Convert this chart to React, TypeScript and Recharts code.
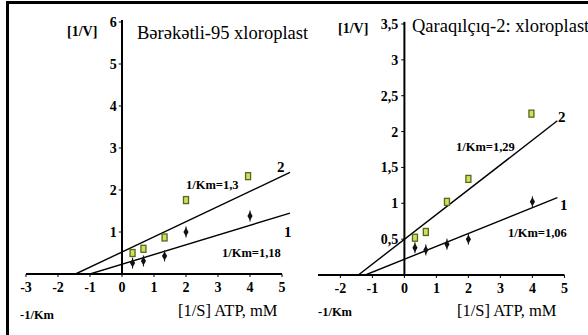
import { ScatterChart, Scatter, XAxis, YAxis, ReferenceLine } from "recharts";

const FONT = "Liberation Serif, Tinos, DejaVu Serif, Times New Roman, serif";

// 1/S, mM^-1
const invS = [0.33, 0.67, 1.33, 2, 4];

// Bərəkətli-95: measured 1/V and fitted lines
const berX2 = [0.33, 0.67, 1.33, 2, 3.94];
const berV1 = [0.26, 0.31, 0.43, 1.0, 1.38];
const berV2 = [0.5, 0.6, 0.87, 1.76, 2.33];
const berFit1X = [-1.0, 5.25];
const berFit1Y = [0, 1.45];
const berFit2X = [-1.45, 5.25];
const berFit2Y = [0, 2.42];

// Qaraqılçıq-2
const qarX2 = [0.33, 0.67, 1.33, 2, 3.97];
const qarV1 = [0.38, 0.35, 0.43, 0.5, 1.02];
const qarV2 = [0.52, 0.6, 1.02, 1.34, 2.25];
const qarFit1X = [-1.22, 4.78];
const qarFit1Y = [0, 1.08];
const qarFit2X = [-1.44, 4.78];
const qarFit2Y = [0, 2.15];

const berXTicks = [-3, -2, -1, 0, 1, 2, 3, 4, 5];
const berYTicks = [1, 2, 3, 4, 5, 6];
const qarXTicks = [-2, -1, 0, 1, 2, 3, 4, 5];
const qarYTicks = [0.5, 1, 1.5, 2, 2.5, 3, 3.5];

const toPoints = (xs: number[], ys: number[]) => xs.map((x, i) => ({ x, y: ys[i] }));
const fmt = (v: number) => String(v).replace(".", ",");

const Square = (p: any) => (
  <rect x={p.cx - 2.5} y={p.cy - 3.5} width={5} height={7} fill="#d2de5c" stroke="#56681c" strokeWidth={1.3} />
);

const Diamond = (p: any) => (
  <g>
    <line x1={p.cx} x2={p.cx} y1={p.cy - 5.5} y2={p.cy + 5.5} stroke="#111" strokeWidth={1} />
    <polygon
      points={`${p.cx},${p.cy - 4.5} ${p.cx + 2.6},${p.cy} ${p.cx},${p.cy + 4.5} ${p.cx - 2.6},${p.cy}`}
      fill="#111"
    />
  </g>
);

const NoDot = () => <g />;

interface PanelProps {
  left: number;
  width: number;
  margin: { top: number; right: number; bottom: number; left: number };
  xDomain: [number, number];
  yDomain: [number, number];
  xTicks: number[];
  yTicks: number[];
  axisStart: number;
  axisEnd: number;
  yAxisTop: number;
  labelOffset: number;
  squares: { x: number; y: number }[];
  diamonds: { x: number; y: number }[];
  fit1: { x: number; y: number }[];
  fit2: { x: number; y: number }[];
}

function Panel(props: PanelProps) {
  const { left, width, margin, xDomain, yDomain, xTicks, yTicks } = props;
  return (
    <div style={{ position: "absolute", left, top: 0 }}>
      <ScatterChart width={width} height={335} margin={margin}>
        <XAxis
          type="number"
          dataKey="x"
          domain={xDomain}
          ticks={xTicks}
          interval={0}
          allowDataOverflow
          axisLine={false}
          stroke="#000"
          tickSize={3}
          tickMargin={5}
          height={20}
          tickFormatter={fmt}
          tick={{ fill: "#000", fontSize: 14, fontWeight: "bold", style: { fontFamily: FONT } }}
        />
        <YAxis type="number" dataKey="y" domain={yDomain} allowDataOverflow hide />
        <ReferenceLine
          segment={[{ x: props.axisStart, y: 0 }, { x: props.axisEnd, y: 0 }]}
          stroke="#000"
          strokeWidth={2}
          ifOverflow="visible"
        />
        <ReferenceLine
          segment={[{ x: 0, y: 0 }, { x: 0, y: props.yAxisTop }]}
          stroke="#000"
          strokeWidth={2}
          ifOverflow="visible"
        />
        {yTicks.map((t) => (
          <ReferenceLine
            key={t}
            segment={[{ x: -0.1, y: t }, { x: 0, y: t }]}
            stroke="#000"
            strokeWidth={1}
            label={{
              value: fmt(t),
              position: "left",
              offset: props.labelOffset,
              fill: "#000",
              fontSize: 14,
              fontWeight: "bold",
              style: { fontFamily: FONT },
            }}
          />
        ))}
        <Scatter data={props.fit1} line={{ stroke: "#000", strokeWidth: 1.4 }} shape={NoDot} isAnimationActive={false} />
        <Scatter data={props.fit2} line={{ stroke: "#000", strokeWidth: 1.4 }} shape={NoDot} isAnimationActive={false} />
        <Scatter data={props.diamonds} shape={Diamond} isAnimationActive={false} />
        <Scatter data={props.squares} shape={Square} isAnimationActive={false} />
      </ScatterChart>
    </div>
  );
}

export default function App() {
  const bold = { fontWeight: "bold" as const, fill: "#000", style: { fontFamily: FONT } };
  const plain = { fill: "#000", style: { fontFamily: FONT } };
  return (
    <div
      style={{
        position: "absolute",
        left: 0,
        top: 0,
        width: 588,
        height: 335,
        overflow: "hidden",
        background: "#fff",
        fontFamily: FONT,
      }}
    >
      <div
        style={{
          position: "absolute",
          left: 6,
          top: 1,
          width: 700,
          height: 500,
          borderTop: "3px solid #000",
          borderLeft: "3px solid #000",
        }}
      />
      <Panel
        left={0}
        width={300}
        margin={{ top: 22, right: 8.4, bottom: 41, left: 26 }}
        xDomain={[-3, 5.3]}
        yDomain={[0, 6]}
        xTicks={berXTicks}
        yTicks={berYTicks}
        axisStart={-3}
        axisEnd={5}
        yAxisTop={6.05}
        labelOffset={2}
        squares={toPoints(berX2, berV2)}
        diamonds={toPoints(invS, berV1)}
        fit1={toPoints(berFit1X, berFit1Y)}
        fit2={toPoints(berFit2X, berFit2Y)}
      />
      <Panel
        left={290}
        width={298}
        margin={{ top: 24, right: 23.6, bottom: 40, left: 28 }}
        xDomain={[-2.7, 5]}
        yDomain={[0, 3.5]}
        xTicks={qarXTicks}
        yTicks={qarYTicks}
        axisStart={-2.7}
        axisEnd={5}
        yAxisTop={3.53}
        labelOffset={3}
        squares={toPoints(qarX2, qarV2)}
        diamonds={toPoints(invS, qarV1)}
        fit1={toPoints(qarFit1X, qarFit1Y)}
        fit2={toPoints(qarFit2X, qarFit2Y)}
      />
      <svg width={588} height={335} style={{ position: "absolute", left: 0, top: 0, pointerEvents: "none" }}>
        {/* Bərəkətli-95 */}
        <text x={67} y={36} fontSize={14} {...bold}>[1/V]</text>
        <text x={137} y={39} fontSize={18.5} {...plain}>Bərəkətli-95 xloroplast</text>
        <text x={186} y={189} fontSize={12.5} {...bold}>1/Km=1,3</text>
        <text x={222} y={257} fontSize={12.5} {...bold}>1/Km=1,18</text>
        <text x={277} y={172} fontSize={15} {...bold}>2</text>
        <text x={284} y={237} fontSize={15} {...bold}>1</text>
        <text x={20} y={319} fontSize={12.5} {...bold}>-1/Km</text>
        <text x={178} y={316} fontSize={16.5} {...plain}>[1/S] ATP, mM</text>
        {/* Qaraqılçıq-2 */}
        <text x={338} y={33} fontSize={14} {...bold}>[1/V]</text>
        <text x={412} y={32} fontSize={18.5} {...plain}>Qaraqılçıq-2: xloroplast</text>
        <text x={456} y={151} fontSize={12.5} {...bold}>1/Km=1,29</text>
        <text x={508} y={237} fontSize={12.5} {...bold}>1/Km=1,06</text>
        <text x={558} y={122} fontSize={15} {...bold}>2</text>
        <text x={560} y={210} fontSize={15} {...bold}>1</text>
        <text x={318} y={316} fontSize={12.5} {...bold}>-1/Km</text>
        <text x={457} y={316} fontSize={16.5} {...plain}>[1/S] ATP, mM</text>
      </svg>
    </div>
  );
}
